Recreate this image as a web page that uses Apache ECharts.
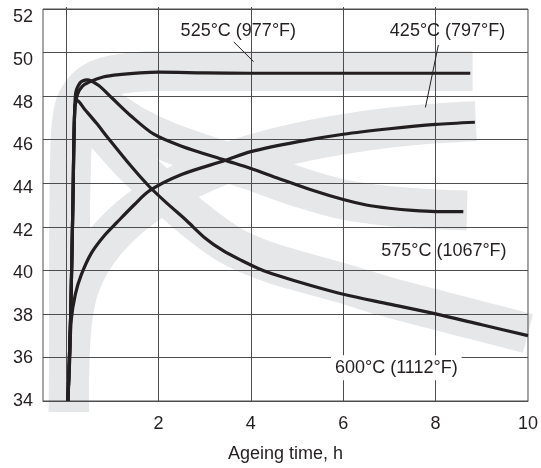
<!DOCTYPE html>
<html>
<head>
<meta charset="utf-8">
<script src="https://cdn.jsdelivr.net/npm/echarts@6/dist/echarts.min.js"></script>
<style>
  html, body { margin: 0; padding: 0; background: #fff; }
  #chart { width: 541px; height: 468px; }
</style>
</head>
<body>
<div id="chart"></div>
<script>
// ageing time (h) vs hardness, four ageing temperatures

// axis ticks
const xTicks = [2, 4, 6, 8, 10];
const xGrid = [0, 2, 4, 6, 8];
const yTicks = [34, 36, 38, 40, 42, 44, 46, 48, 50, 52];

// 425°C curve
const t425 = [0.04, 0.08, 0.11, 0.2, 0.33, 0.55, 0.83, 1.1, 1.47, 1.8, 2.5, 3.45, 4, 5, 6, 7, 8, 8.85];
const v425 = [34, 36, 37.7, 38.9, 39.8, 40.8, 41.6, 42.2, 43.0, 43.65, 44.4, 45.05, 45.45, 45.9, 46.25, 46.5, 46.7, 46.8];
// 525°C curve
const t525 = [0.04, 0.1, 0.15, 0.19, 0.25, 0.35, 0.5, 0.8, 1.2, 1.6, 2.0, 3, 4, 6, 8, 8.75];
const v525 = [34, 38, 43.4, 47.5, 48.1, 48.45, 48.65, 48.88, 49.0, 49.07, 49.1, 49.07, 49.05, 49.05, 49.05, 49.05];
// 575°C curve
const t575 = [0.04, 0.1, 0.15, 0.2, 0.3, 0.45, 0.7, 1.0, 1.4, 1.9, 2.5, 3.45, 4.0, 4.6, 5.3, 6, 6.5, 7, 7.5, 8, 8.6];
const v575 = [34, 38, 43.4, 48.0, 48.6, 48.75, 48.5, 47.9, 47.1, 46.25, 45.7, 45.05, 44.68, 44.22, 43.7, 43.25, 43.0, 42.85, 42.75, 42.7, 42.7];
// 600°C curve
const t600 = [0.04, 0.1, 0.15, 0.19, 0.24, 0.4, 0.66, 0.9, 1.4, 1.8, 2.2, 2.6, 3.0, 3.4, 3.8, 4.2, 4.6, 5.3, 6, 7, 8, 9, 10];
const v600 = [34, 38, 43.4, 47.5, 47.8, 47.4, 46.75, 46.1, 44.8, 43.85, 43.05, 42.3, 41.5, 40.9, 40.45, 40.05, 39.75, 39.3, 38.9, 38.45, 38.0, 37.5, 37.0];

// grey scatter bands (centre lines)
const b425x = [0.06, 0.1, 0.25, 0.6, 1.2, 2, 3, 4, 5, 6, 7, 8, 8.87];
const b425y = [33.5, 37, 39, 40.6, 42.1, 43.4, 44.5, 45.3, 45.85, 46.25, 46.55, 46.75, 46.85];
const b525x = [0.06, 0.07, 0.1, 0.2, 0.5, 1, 2, 8.8];
const b525y = [33.5, 42, 46, 47.6, 48.5, 48.95, 49.15, 49.15];
const b575x = [0.06, 0.08, 0.15, 0.4, 0.9, 1.5, 2.2, 3, 4, 5, 6, 7, 8, 8.68];
const b575y = [33.5, 42, 46.8, 47.8, 47.4, 46.6, 45.9, 45.3, 44.6, 43.85, 43.25, 42.95, 42.8, 42.75];
const b600x = [0.06, 0.08, 0.15, 0.35, 0.8, 1.4, 2, 2.8, 3.6, 4.5, 6, 7, 8, 9, 10];
const b600y = [33.5, 42, 46.5, 47.3, 46.4, 45.0, 43.8, 42.3, 41.1, 40.3, 39.4, 38.75, 38.2, 37.65, 37.1];

// annotations
const tempLabels = ['525°C (977°F)', '425°C (797°F)', '575°C (1067°F)', '600°C (1112°F)'];
const labelX = [3.74, 8.27, 8.19, 7.16];
const labelY = [50.95, 50.95, 40.85, 35.5];
const lead525 = [[3.63, 50.49], [4.06, 49.58]];
const lead425 = [[8.06, 50.35], [7.78, 47.48]];

const FONT = '"Liberation Sans", Arial, sans-serif';
const INK = '#231f20';
const GRID = '#4d4d4d';
const BAND = '#e6e7e8';

function pairs(xs, ys) {
  return xs.map((x, i) => [x, ys[i]]);
}

function bandSeries(xs, ys) {
  return {
    type: 'line', data: pairs(xs, ys), showSymbol: false, smooth: 0.3,
    lineStyle: { color: BAND, width: 40, cap: 'butt', join: 'round' },
    z: -1, silent: true
  };
}

function curveSeries(xs, ys) {
  return {
    type: 'line', data: pairs(xs, ys), showSymbol: false, smooth: 0.3,
    lineStyle: { color: INK, width: 3.2 },
    z: 3, silent: true
  };
}

function leadSeries(pts) {
  return {
    type: 'line', data: pts, showSymbol: false,
    lineStyle: { color: INK, width: 1 }, z: 4, silent: true
  };
}

const chart = echarts.init(document.getElementById('chart'));
chart.setOption({
  animation: false,
  textStyle: { fontFamily: FONT },
  grid: { left: 43, right: 7, top: 9, bottom: 65, show: true, borderColor: GRID, borderWidth: 1 },
  xAxis: {
    type: 'value', min: -0.5, max: 10,
    axisLine: { show: true, lineStyle: { color: GRID } },
    axisTick: { show: true, inside: true, length: 394, customValues: xGrid, lineStyle: { color: GRID } },
    splitLine: { show: false },
    axisLabel: { customValues: xTicks, fontSize: 18, margin: 14, color: INK, fontFamily: FONT },
    name: 'Ageing time, h', nameLocation: 'middle', nameGap: 44,
    nameTextStyle: { fontSize: 18, color: INK, fontFamily: FONT }
  },
  yAxis: [
    {
      type: 'value', min: 34, max: 52, interval: 2,
      axisLine: { show: false }, axisTick: { show: false },
      axisLabel: { show: false },
      splitLine: { lineStyle: { color: GRID, width: 1 } }
    },
    {
      type: 'value', min: 34, max: 52.4, position: 'left',
      axisLine: { show: false }, axisTick: { show: false }, splitLine: { show: false },
      axisLabel: { customValues: yTicks, fontSize: 18, margin: 10, color: INK, fontFamily: FONT }
    }
  ],
  series: [
    bandSeries(b600x, b600y),
    bandSeries(b575x, b575y),
    bandSeries(b425x, b425y),
    bandSeries(b525x, b525y),
    curveSeries(t425, v425),
    curveSeries(t525, v525),
    curveSeries(t575, v575),
    curveSeries(t600, v600),
    leadSeries(lead525),
    leadSeries(lead425),
    {
      type: 'scatter', symbolSize: 1, itemStyle: { color: 'transparent' }, z: 5, silent: true,
      data: labelX.map((x, i) => ({
        value: [x, labelY[i]],
        label: i === 3 ? { backgroundColor: '#fff', padding: [6, 4, 1, 4] } : {}
      })),
      label: {
        show: true, position: [0, 0], align: 'center', verticalAlign: 'middle',
        fontSize: 18, color: INK, fontFamily: FONT,
        textBorderWidth: 0, textBorderColor: 'transparent', opacity: 1,
        formatter: p => tempLabels[p.dataIndex]
      }
    }
  ]
});
</script>
</body>
</html>
